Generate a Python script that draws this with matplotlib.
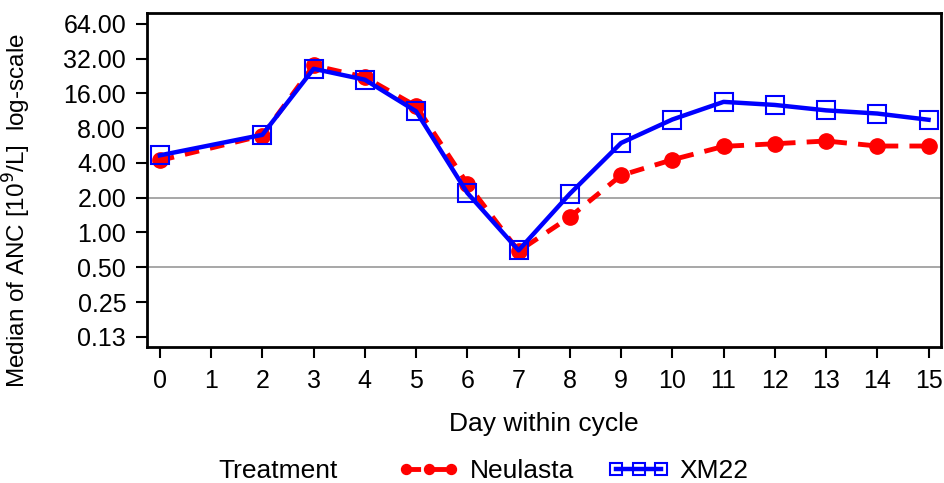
import numpy as np
import matplotlib
matplotlib.use("Agg")
from matplotlib import pyplot as plt
from matplotlib.ticker import FixedLocator, FixedFormatter, NullLocator

plt.rcParams['font.family'] = ['Liberation Sans', 'DejaVu Sans']

days = [0, 2, 3, 4, 5, 6, 7, 8, 9, 10, 11, 12, 13, 14, 15]
neulasta = [4.2, 6.9, 27.9, 22.1, 12.4, 2.64, 0.69, 1.36, 3.12, 4.26, 5.56, 5.86, 6.19, 5.6, 5.6]
xm22 = [4.65, 7.0, 26.1, 21.0, 11.2, 2.2, 0.70, 2.16, 5.95, 9.5, 13.5, 12.7, 11.4, 10.7, 9.45]

y_ticks = [0.125, 0.25, 0.5, 1, 2, 4, 8, 16, 32, 64]
y_labels = ["0.13", "0.25", "0.50", "1.00", "2.00", "4.00", "8.00", "16.00", "32.00", "64.00"]
x_ticks = list(range(0, 16))
ref_lines = [0.5, 2.0]

fig = plt.figure(figsize=(9.45, 4.83), dpi=100)
ax = fig.add_axes([0.1556, 0.2816, 0.840, 0.691])

for r in ref_lines:
    ax.axhline(r, color='#a0a0a0', lw=1.3, zorder=1)

ax.plot(days, neulasta, color='#ff0000', lw=3.5, ls=(0, (3.0, 2.3)),
        marker='o', ms=11, mfc='#ff0000', mec='#ff0000', label='Neulasta', zorder=3)
ax.plot(days, xm22, color='#0000ff', lw=3.2, ls='-',
        marker='s', ms=13, mfc='none', mec='#0000ff', mew=1.5, label='XM22', zorder=4)

ax.set_yscale('log', base=2)
ax.set_ylim(0.102, 79)
ax.set_xlim(-0.25, 15.24)
ax.yaxis.set_major_locator(FixedLocator(y_ticks))
ax.yaxis.set_major_formatter(FixedFormatter(y_labels))
ax.yaxis.set_minor_locator(NullLocator())
ax.set_xticks(x_ticks)

for s in ax.spines.values():
    s.set_linewidth(2)
ax.tick_params(axis='both', direction='out', length=8, width=1.5, labelsize=18)
ax.tick_params(axis='x', pad=8)
ax.tick_params(axis='y', pad=7)

ax.set_xlabel('Day within cycle', fontsize=19)
ax.xaxis.set_label_coords(0.5, -0.195)
ax.set_ylabel('Median of ANC [10$^{9}$/L]  log-scale', fontsize=17.5)
ax.yaxis.set_label_coords(-0.1436, 0.41)

fig.text(0.231, 0.025, 'Treatment', fontsize=19, va='center', ha='left')
fig.legend(loc='center', bbox_to_anchor=(0.607, 0.025), ncol=2, frameon=False,
           fontsize=19, numpoints=3, handlelength=2.3, columnspacing=1.3,
           handletextpad=0.4, markerscale=0.65)

plt.savefig("out.png", dpi=100)
